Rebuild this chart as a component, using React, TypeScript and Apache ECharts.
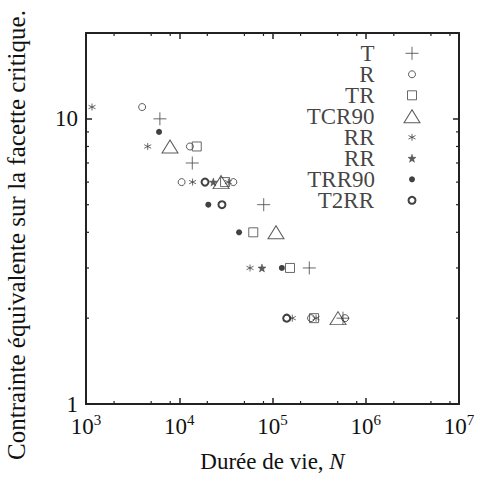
import React, { useEffect, useRef } from 'react';
import * as echarts from 'echarts';

const FONT = 'Liberation Serif, Times New Roman, serif';

// ---- data (N = durée de vie, S = contrainte) ----
const legendNames = ['T', 'R', 'TR', 'TCR90', 'RR', 'RR', 'TRR90', 'T2RR'];

const tN = [6200, 13800, 80500, 248000, 570000];
const tS = [10, 7, 5, 3, 2];

const rN = [4000, 13000, 10600, 38000, 259000, 600000];
const rS = [11, 8, 6, 6, 2, 2];

const trN = [15400, 31000, 62200, 154000, 279000];
const trS = [8, 6, 4, 3, 2];

const tcrN = [7960, 28100, 109000, 504000];
const tcrS = [8, 6, 4, 2];

const rrAstN = [1160, 4590, 13900, 33600, 57400, 163000, 293000];
const rrAstS = [11, 8, 6, 6, 3, 2, 2];

const rrStarN = [23200, 77100];
const rrStarS = [6, 3];

const trrN = [6070, 20500, 43800, 126000];
const trrS = [9, 5, 4, 3];

const t2rrN = [18900, 28700, 142000];
const t2rrS = [6, 5, 2];

const xMin = 1e3;
const xMax = 1e7;
const yMin = 1;
const yMax = 20;
const xDecades = [1e3, 1e4, 1e5, 1e6];
const xMinorFactors = [2, 5, 8];
const yMinorTicks = [2, 3, 4, 5, 6, 7, 8, 9];

const xTitle = 'Durée de vie, ';
const xTitleItalic = 'N';
const yTitle = 'Contrainte équivalente sur la facette critique.';

const seriesN = [tN, rN, trN, tcrN, rrAstN, rrStarN, trrN, t2rrN];
const seriesS = [tS, rS, trS, tcrS, rrAstS, rrStarS, trrS, t2rrS];

// ---- marker styles ----
const PLUS = 'path://M-5,0H5M0,-5V5';
const AST = 'path://M0,-5V5M-4.33,-2.5L4.33,2.5M-4.33,2.5L4.33,-2.5';
const STAR =
  'path://M0,-10L2.35,-3.24L9.51,-3.09L3.8,1.24L5.88,8.09L0,4L-5.88,8.09L-3.8,1.24L-9.51,-3.09L-2.35,-3.24Z';

const markerStyles: any[] = [
  { symbol: PLUS, size: [13, 13], item: { color: 'transparent', borderColor: '#444', borderWidth: 1 } },
  { symbol: 'circle', size: [7, 7], item: { color: 'transparent', borderColor: '#333', borderWidth: 1 } },
  { symbol: 'rect', size: [9, 9], item: { color: 'transparent', borderColor: '#444', borderWidth: 1 } },
  { symbol: 'triangle', size: [16, 13], item: { color: 'transparent', borderColor: '#333', borderWidth: 1 } },
  { symbol: AST, size: [7, 7], item: { color: 'transparent', borderColor: '#444', borderWidth: 1 } },
  { symbol: STAR, size: [8, 8], item: { color: '#333', borderColor: '#333', borderWidth: 0.5 } },
  { symbol: 'circle', size: [6, 6], item: { color: '#111', borderColor: '#111', borderWidth: 0 } },
  { symbol: 'circle', size: [7, 7], item: { color: '#fff', borderColor: '#111', borderWidth: 2 } },
];

const isPow10 = (v: number) => {
  const l = Math.log10(v);
  return Math.abs(l - Math.round(l)) < 1e-6;
};

export default function App() {
  const ref = useRef<HTMLDivElement>(null);

  useEffect(() => {
    if (!ref.current) return;
    const chart = echarts.init(ref.current, undefined, { renderer: 'svg' });

    const tickData: any[] = [];
    xDecades.forEach((d) => xMinorFactors.forEach((f) => tickData.push([d * f, 1, 0])));
    yMinorTicks.forEach((v) => tickData.push([xMin, v, 1]));

    const frameLine = { lineStyle: { color: '#222', width: 2 } };
    const majorTick = { show: true, inside: true, length: 6, lineStyle: { color: '#222', width: 1.5 } };

    const mainSeries = seriesN.map((ns, i) => ({
      type: 'scatter',
      name: legendNames[i] + '_' + i,
      xAxisIndex: 0,
      yAxisIndex: 0,
      symbol: markerStyles[i].symbol,
      symbolSize: markerStyles[i].size,
      itemStyle: markerStyles[i].item,
      data: ns.map((n, k) => [n, seriesS[i][k]]),
      z: 3,
    }));

    const legendSeries = legendNames.map((nm, i) => ({
      type: 'scatter',
      name: 'legend_' + i,
      xAxisIndex: 2,
      yAxisIndex: 2,
      symbol: markerStyles[i].symbol,
      symbolSize: markerStyles[i].size,
      itemStyle: markerStyles[i].item,
      data: [[0.5, i]],
      label: {
        show: true,
        position: 'left',
        distance: 37 - markerStyles[i].size[0] / 2,
        formatter: () => nm,
        fontSize: 23,
        lineHeight: 19,
        fontFamily: FONT,
        color: '#111',
      },
      z: 3,
    }));

    const option: any = {
      animation: false,
      backgroundColor: '#fff',
      textStyle: { fontFamily: FONT },
      grid: [
        { left: 86, top: 33, width: 373, height: 371 },
        { left: 400, top: 53.3, width: 24, height: 147 },
      ],
      xAxis: [
        {
          type: 'log',
          gridIndex: 0,
          min: xMin,
          max: xMax,
          position: 'bottom',
          axisLine: frameLine,
          axisTick: majorTick,
          splitLine: { show: false },
          axisLabel: {
            margin: 8,
            fontFamily: FONT,
            formatter: (v: number) => (isPow10(v) ? `{b|10}{s|${Math.round(Math.log10(v))}}` : ''),
            rich: {
              b: { fontSize: 23, fontFamily: FONT, color: '#111', lineHeight: 26, verticalAlign: 'bottom' },
              s: { fontSize: 15, fontFamily: FONT, color: '#111', lineHeight: 15, verticalAlign: 'top' },
            },
          },
          name: `{a|${xTitle}}{i|${xTitleItalic}}`,
          nameLocation: 'middle',
          nameGap: 46,
          nameTextStyle: {
            fontFamily: FONT,
            rich: {
              a: { fontSize: 23, fontFamily: FONT, color: '#111' },
              i: { fontSize: 23, fontFamily: FONT, color: '#111', fontStyle: 'italic' },
            },
          },
        },
        {
          type: 'log',
          gridIndex: 0,
          min: xMin,
          max: xMax,
          position: 'top',
          axisLine: frameLine,
          axisTick: majorTick,
          axisLabel: { show: false },
          splitLine: { show: false },
        },
        { type: 'value', gridIndex: 1, min: 0, max: 1, show: false },
      ],
      yAxis: [
        {
          type: 'log',
          gridIndex: 0,
          min: yMin,
          max: yMax,
          position: 'left',
          axisLine: frameLine,
          axisTick: majorTick,
          splitLine: { show: false },
          axisLabel: {
            margin: 8,
            fontSize: 23,
            fontFamily: FONT,
            color: '#111',
            formatter: (v: number) => (isPow10(v) ? String(Math.round(v)) : ''),
          },
        },
        {
          type: 'log',
          gridIndex: 0,
          min: yMin,
          max: yMax,
          position: 'right',
          axisLine: frameLine,
          axisTick: majorTick,
          axisLabel: { show: false },
          splitLine: { show: false },
        },
        { type: 'value', gridIndex: 1, min: 0, max: 7, inverse: true, show: false },
      ],
      graphic: [
        {
          type: 'text',
          x: 16,
          y: 235,
          rotation: Math.PI / 2,
          style: {
            text: yTitle,
            fontSize: 25,
            fontFamily: FONT,
            fill: '#111',
            align: 'center',
            verticalAlign: 'middle',
          },
        },
      ],
      series: [
        ...mainSeries,
        ...legendSeries,
        {
          type: 'custom',
          name: 'minorTicks',
          xAxisIndex: 0,
          yAxisIndex: 0,
          silent: true,
          clip: false,
          z: 5,
          encode: { x: 0, y: 1 },
          data: tickData,
          renderItem: (params: any, api: any) => {
            const cs = params.coordSys;
            const kind = api.value(2);
            const p = api.coord([api.value(0), api.value(1)]);
            const L = 3;
            const style = { stroke: '#222', lineWidth: 1.2 };
            if (kind === 0) {
              const x = p[0];
              return {
                type: 'group',
                children: [
                  { type: 'line', shape: { x1: x, y1: cs.y + cs.height, x2: x, y2: cs.y + cs.height - L }, style },
                  { type: 'line', shape: { x1: x, y1: cs.y, x2: x, y2: cs.y + L }, style },
                ],
              };
            }
            const y = p[1];
            return {
              type: 'group',
              children: [
                { type: 'line', shape: { x1: cs.x, y1: y, x2: cs.x + L, y2: y }, style },
                { type: 'line', shape: { x1: cs.x + cs.width, y1: y, x2: cs.x + cs.width - L, y2: y }, style },
              ],
            };
          },
        },
      ],
    };

    chart.setOption(option);
    return () => chart.dispose();
  }, []);

  return (
    <div
      ref={ref}
      style={{ position: 'fixed', left: 0, top: 0, width: 482, height: 483, background: '#fff' }}
    />
  );
}
